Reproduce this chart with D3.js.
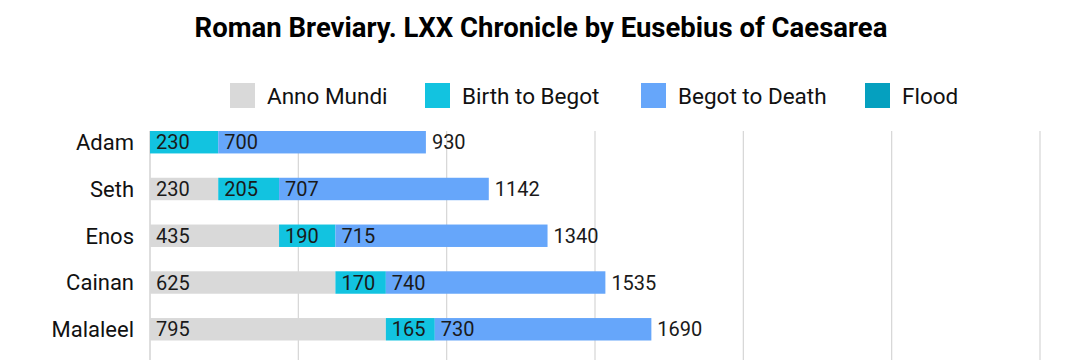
<!DOCTYPE html>
<html><head><meta charset="utf-8">
<script src="https://cdn.jsdelivr.net/npm/d3@7"></script>
<style>body{margin:0;background:#fff;}svg{display:block;font-family:Roboto,"Open Sans",sans-serif;}</style>
</head><body><svg id="c" width="1080" height="360"></svg>
<script>
const categories = ["Adam","Seth","Enos","Cainan","Malaleel"];
const annoMundi = [0,230,435,625,795];
const birthToBegot = [230,205,190,170,165];
const begotToDeath = [700,707,715,740,730];
const flood = [0,0,0,0,0];
const seriesNames = ["Anno Mundi","Birth to Begot","Begot to Death","Flood"];
const seriesColors = ["#d9d9d9","#12c3e0","#66a6fa","#05a0bf"];
const xTicks = [0,500,1000,1500,2000,2500,3000];

const svg = d3.select("#c");
const x = d3.scaleLinear().domain([0,3000]).range([150,1040]);
const y = d3.scaleBand().domain(categories).range([131,340.5]).paddingInner(0.52).paddingOuter(0);

svg.append("text").attr("x",541).attr("y",37).attr("text-anchor","middle")
  .attr("font-size",27.5).attr("font-weight",700).attr("fill","#000")
  .text("Roman Breviary. LXX Chronicle by Eusebius of Caesarea");

// gridlines
svg.append("g").selectAll("line").data(xTicks).join("line")
  .attr("x1",d=>x(d)).attr("x2",d=>x(d)).attr("y1",131).attr("y2",360)
  .attr("stroke",d=>d===0?"#c8c8c8":"#d6d6d6").attr("stroke-width",1.2);

// legend
const legX = [230,425,641,865];
const leg = svg.append("g");
seriesNames.forEach((n,i)=>{
  leg.append("rect").attr("x",legX[i]).attr("y",83).attr("width",25).attr("height",25).attr("fill",seriesColors[i]);
  leg.append("text").attr("x",legX[i]+37).attr("y",96).attr("dy","0.35em").attr("font-size",22.5).attr("fill","#111").text(n);
});

const rows = categories.map((c,i)=>({c, vals:[annoMundi[i],birthToBegot[i],begotToDeath[i],flood[i]]}));
const g = svg.append("g");
rows.forEach(r=>{
  let acc=0;
  r.vals.forEach((v,j)=>{
    if(v>0){
      g.append("rect").attr("x",x(acc)).attr("y",y(r.c)).attr("width",x(acc+v)-x(acc)).attr("height",y.bandwidth()).attr("fill",seriesColors[j]);
      g.append("text").attr("x",x(acc)+6).attr("y",y(r.c)+y.bandwidth()/2).attr("dy","0.36em")
        .attr("font-size",20).attr("fill","#1a1a1a").text(v);
    }
    acc+=v;
  });
  g.append("text").attr("x",x(acc)+6).attr("y",y(r.c)+y.bandwidth()/2).attr("dy","0.36em")
    .attr("font-size",20).attr("fill","#1a1a1a").text(acc);
  g.append("text").attr("x",134).attr("y",y(r.c)+y.bandwidth()/2).attr("dy","0.36em").attr("text-anchor","end")
    .attr("font-size",22).attr("fill","#111").text(r.c);
});
</script></body></html>
